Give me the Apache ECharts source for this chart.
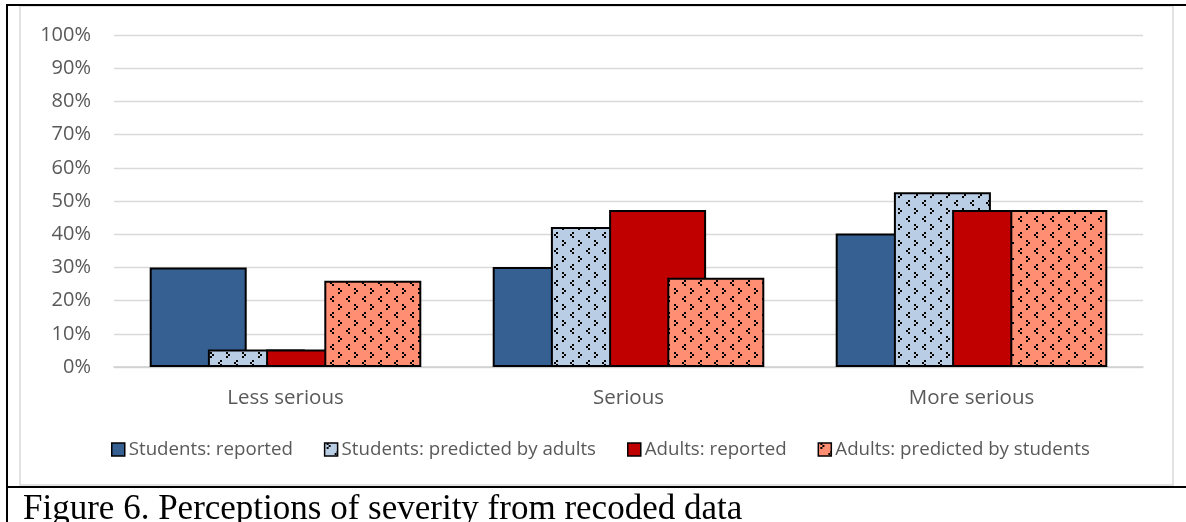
<!DOCTYPE html>
<html>
<head>
<meta charset="utf-8">
<script src="https://cdn.jsdelivr.net/npm/echarts@6/dist/echarts.min.js"></script>
<style>
  html, body { margin: 0; padding: 0; background: #fff; }
  #chart { width: 1186px; height: 522px; }
</style>
</head>
<body>
<div id="chart"></div>
<script>
// ---- data ----
const categories = ['Less serious', 'Serious', 'More serious'];
const seriesNames = ['Students: reported', 'Students: predicted by adults', 'Adults: reported', 'Adults: predicted by students'];
const studentsReported = [30.0, 30.1, 40.2];
const studentsPredictedByAdults = [5.3, 42.2, 52.6];
const adultsReported = [5.3, 47.3, 47.3];
const adultsPredictedByStudents = [26.0, 26.9, 47.3];
const yTickMin = 0, yTickMax = 100, yTickStep = 10;
const captionText = 'Figure 6. Perceptions of severity from recoded data';

// ---- patterns ----
function makePattern(bg) {
  const c = document.createElement('canvas');
  c.width = 16; c.height = 16;
  const g = c.getContext('2d');
  g.fillStyle = bg; g.fillRect(0, 0, 16, 16);
  g.fillStyle = '#000';
  const s = 2;
  // ">" chevron
  g.fillRect(2, 0, s, s); g.fillRect(4, 2, s, s); g.fillRect(2, 4, s, s);
  // "<" chevron
  g.fillRect(12, 8, s, s); g.fillRect(10, 10, s, s); g.fillRect(12, 12, s, s);
  return { image: c, repeat: 'repeat' };
}
const fills = ['#376092', makePattern('#B9CDE5'), '#C00000', makePattern('#FF8E73')];
const values = [studentsReported, studentsPredictedByAdults, adultsReported, adultsPredictedByStudents];

const chart = echarts.init(document.getElementById('chart'), null, { renderer: 'canvas' });
const textColor = '#595959';
const font = 'Open Sans';

const option = {
  animation: false,
  backgroundColor: '#fff',
  grid: { left: 114, right: 43, top: 35, bottom: 155, containLabel: false },
  xAxis: {
    type: 'category',
    data: categories,
    axisTick: { show: false },
    axisLine: { lineStyle: { color: '#d0d0d0', width: 1.5 } },
    axisLabel: { color: textColor, fontFamily: font, fontSize: 20.5, margin: 21 }
  },
  yAxis: {
    type: 'value',
    min: yTickMin, max: yTickMax, interval: yTickStep,
    axisLine: { show: false },
    axisTick: { show: false },
    splitLine: { lineStyle: { color: '#d9d9d9', width: 1.3 } },
    axisLabel: { color: textColor, fontFamily: font, fontSize: 20, margin: 23, formatter: '{value}%' }
  },
  legend: {
    left: 111, top: 440, padding: 0,
    itemWidth: 13, itemHeight: 13, itemGap: 31,
    icon: 'rect',
    itemStyle: { borderColor: '#000', borderWidth: 1.5 },
    textStyle: { color: textColor, fontFamily: font, fontSize: 18.7, padding: [0, 0, 0, -1] },
    data: seriesNames
  },
  series: seriesNames.map((name, i) => ({
    name: name,
    type: 'bar',
    data: values[i],
    barWidth: 97,
    barGap: '-40%',
    itemStyle: { color: fills[i], borderColor: '#000', borderWidth: 2 }
  })),
  graphic: [
    // chart area border
    { type: 'rect', shape: { x: 20, y: 6, width: 1153, height: 479 }, style: { fill: 'none', stroke: '#d9d9d9', lineWidth: 1.5 }, silent: true },
    // document table borders
    { type: 'line', shape: { x1: 6, y1: 5, x2: 1186, y2: 5 }, style: { stroke: '#000', lineWidth: 2 }, silent: true },
    { type: 'line', shape: { x1: 7, y1: 4, x2: 7, y2: 522 }, style: { stroke: '#000', lineWidth: 2 }, silent: true },
    { type: 'line', shape: { x1: 6, y1: 487, x2: 1186, y2: 487 }, style: { stroke: '#000', lineWidth: 2 }, silent: true },
    // caption
    { type: 'text', left: 23, top: 492, style: { text: captionText, fill: '#000', font: '35px "Liberation Serif", "Times New Roman", serif' }, silent: true }
  ]
};
chart.setOption(option);
</script>
</body>
</html>
